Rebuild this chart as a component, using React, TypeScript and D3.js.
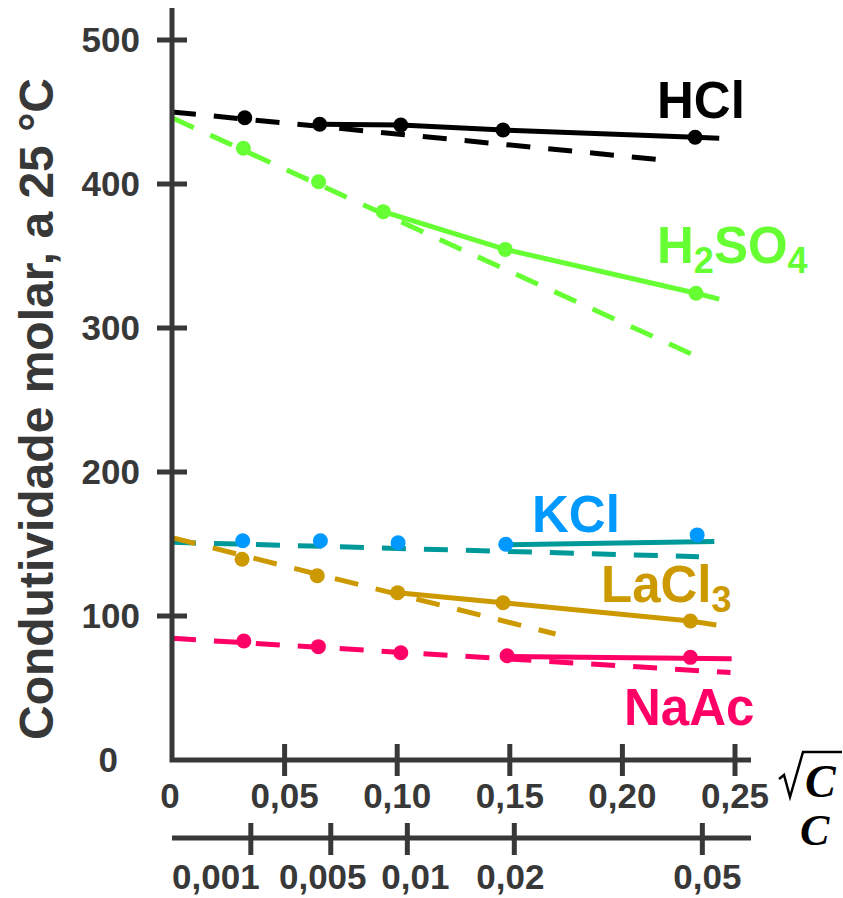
import React, { useEffect, useRef } from "react";
import * as d3 from "d3";

// axis ticks
const yTicks = [100, 200, 300, 400, 500];
const sqrtTicks = [0, 0.05, 0.1, 0.15, 0.2, 0.25];
const sqrtLabels = ["0", "0,05", "0,10", "0,15", "0,20", "0,25"];
const cLabels = ["0,001", "0,005", "0,01", "0,02", "0,05"];
// position of each c tick on the sqrt(c) scale, as drawn
const cTickAt = [0.035, 0.0705, 0.1045, 0.152, 0.2355];

// measured points (sqrt c, molar conductivity)
const hclX = [0.0323, 0.0656, 0.1016, 0.147, 0.2323];
const hclY = [446, 441.5, 441, 437.5, 432.5];
const h2so4X = [0.0317, 0.0651, 0.0938, 0.148, 0.2327];
const h2so4Y = [424.8, 401.6, 380.8, 354.6, 324.1];
const kclX = [0.0314, 0.0659, 0.1004, 0.1482, 0.2332];
const kclY = [152.3, 152.3, 150.9, 149.8, 156.3];
const laclX = [0.0311, 0.0645, 0.1002, 0.147, 0.2302];
const laclY = [139.4, 128.0, 116.2, 109.2, 96.5];
const naacX = [0.0319, 0.065, 0.1016, 0.1488, 0.2302];
const naacY = [82.6, 78.7, 74.5, 72.4, 71.3];

// solid curves (high concentration part)
const hclFitX = [0.0656, 0.1016, 0.147, 0.2323, 0.243];
const hclFitY = [441.5, 441, 437.5, 432.5, 431.7];
const h2so4FitX = [0.0938, 0.148, 0.2327, 0.243];
const h2so4FitY = [380.8, 354.6, 324.1, 320];
const kclFitX = [0.149, 0.2408];
const kclFitY = [149.4, 151.8];
const laclFitX = [0.1002, 0.147, 0.2302, 0.2417];
const laclFitY = [116.2, 109.2, 96.5, 93.8];
const naacFitX = [0.1488, 0.2485];
const naacFitY = [71.8, 70.3];

// dashed limiting lines (Kohlrausch)
const hclLimX = [0, 0.216];
const hclLimY = [450, 417];
const h2so4LimX = [0, 0.232];
const h2so4LimY = [446, 281];
const kclLimX = [0, 0.234];
const kclLimY = [151.2, 141.2];
const laclLimX = [0, 0.1703];
const laclLimY = [154.4, 87.5];
const naacLimX = [0, 0.248];
const naacLimY = [84.5, 60.7];

const series = [
  { name: "HCl", line: "#000000", dot: "#000000", x: hclX, y: hclY, fx: hclFitX, fy: hclFitY, lx: hclLimX, ly: hclLimY },
  { name: "H2SO4", line: "#66ff33", dot: "#66ff33", x: h2so4X, y: h2so4Y, fx: h2so4FitX, fy: h2so4FitY, lx: h2so4LimX, ly: h2so4LimY },
  { name: "KCl", line: "#009999", dot: "#0099ff", x: kclX, y: kclY, fx: kclFitX, fy: kclFitY, lx: kclLimX, ly: kclLimY },
  { name: "LaCl3", line: "#cc9900", dot: "#cc9900", x: laclX, y: laclY, fx: laclFitX, fy: laclFitY, lx: laclLimX, ly: laclLimY },
  { name: "NaAc", line: "#ff0066", dot: "#ff0066", x: naacX, y: naacY, fx: naacFitX, fy: naacFitY, lx: naacLimX, ly: naacLimY },
];

// label layout: [text parts (true = subscript)], x, baseline y, colour
const labels = [
  { parts: [["HCl", false]], x: 657, y: 118, color: "#000000" },
  { parts: [["H", false], ["2", true], ["SO", false], ["4", true]], x: 657, y: 263, color: "#66ff33" },
  { parts: [["KCl", false]], x: 532, y: 532, color: "#0099ff" },
  { parts: [["LaCl", false], ["3", true]], x: 601, y: 602, color: "#cc9900" },
  { parts: [["NaAc", false]], x: 624, y: 725, color: "#ff0066" },
];
const cLabelShift = [-35, -8, 8, -4, 5];

const W = 843;
const H = 898;
const AXIS = "#383838";
const FONT = "'Liberation Sans', Arial, sans-serif";

const App = () => {
  const ref = useRef<SVGSVGElement | null>(null);

  useEffect(() => {
    document.body.style.margin = "0";
    const svg = d3.select(ref.current);
    svg.selectAll("*").remove();

    const x = d3.scaleLinear().domain([0, 0.25]).range([172, 735]);
    const y = d3.scaleLinear().domain([0, 500]).range([760, 40]);
    const xEnd = 751;
    const cAxisY = 838;

    const line = d3
      .line<[number, number]>()
      .x((d) => x(d[0]))
      .y((d) => y(d[1]));

    // dashed limiting lines
    series.forEach((s) => {
      svg
        .append("path")
        .attr("d", line(s.lx.map((v, i) => [v, s.ly[i]] as [number, number])))
        .attr("fill", "none")
        .attr("stroke", s.line)
        .attr("stroke-width", 5)
        .attr("stroke-dasharray", "24 18");
    });

    // solid curves
    series.forEach((s) => {
      svg
        .append("path")
        .attr("d", line(s.fx.map((v, i) => [v, s.fy[i]] as [number, number])))
        .attr("fill", "none")
        .attr("stroke", s.line)
        .attr("stroke-width", 5)
        .attr("stroke-linejoin", "round");
    });

    // points
    series.forEach((s) => {
      svg
        .append("g")
        .selectAll("circle")
        .data(s.x.map((v, i) => [v, s.y[i]]))
        .enter()
        .append("circle")
        .attr("cx", (d) => x(d[0]))
        .attr("cy", (d) => y(d[1]))
        .attr("r", 7.5)
        .attr("fill", s.dot);
    });

    // axes
    svg
      .append("path")
      .attr("d", `M${x(0)},8 V${y(0)} H${xEnd}`)
      .attr("fill", "none")
      .attr("stroke", AXIS)
      .attr("stroke-width", 5);

    svg
      .append("g")
      .selectAll("line")
      .data(yTicks)
      .enter()
      .append("line")
      .attr("x1", x(0) - 15)
      .attr("x2", x(0) + 15)
      .attr("y1", (d) => y(d))
      .attr("y2", (d) => y(d))
      .attr("stroke", AXIS)
      .attr("stroke-width", 5);

    svg
      .append("g")
      .selectAll("text")
      .data([0, ...yTicks])
      .enter()
      .append("text")
      .attr("x", (d) => (d === 0 ? 118 : 140))
      .attr("y", (d) => y(d) + 12)
      .attr("text-anchor", "end")
      .style("font-family", FONT)
      .style("font-weight", "bold")
      .style("font-size", "35px")
      .attr("fill", AXIS)
      .text((d) => String(d));

    svg
      .append("g")
      .selectAll("line")
      .data(sqrtTicks.slice(1))
      .enter()
      .append("line")
      .attr("x1", (d) => x(d))
      .attr("x2", (d) => x(d))
      .attr("y1", y(0) - 16)
      .attr("y2", y(0) + 16)
      .attr("stroke", AXIS)
      .attr("stroke-width", 5);

    svg
      .append("g")
      .selectAll("text")
      .data(sqrtTicks)
      .enter()
      .append("text")
      .attr("x", (d) => x(d) - (d === 0 ? 2 : 0))
      .attr("y", 808)
      .attr("text-anchor", "middle")
      .style("font-family", FONT)
      .style("font-weight", "bold")
      .style("font-size", "35px")
      .attr("fill", AXIS)
      .text((d, i) => sqrtLabels[i]);

    // concentration axis
    svg
      .append("line")
      .attr("x1", x(0))
      .attr("x2", xEnd)
      .attr("y1", cAxisY)
      .attr("y2", cAxisY)
      .attr("stroke", AXIS)
      .attr("stroke-width", 5);

    svg
      .append("g")
      .selectAll("line")
      .data(cTickAt)
      .enter()
      .append("line")
      .attr("x1", (d) => x(d))
      .attr("x2", (d) => x(d))
      .attr("y1", cAxisY - 15)
      .attr("y2", cAxisY + 17)
      .attr("stroke", AXIS)
      .attr("stroke-width", 5);

    svg
      .append("g")
      .selectAll("text")
      .data(cTickAt)
      .enter()
      .append("text")
      .attr("x", (d, i) => x(d) + cLabelShift[i])
      .attr("y", 889)
      .attr("text-anchor", "middle")
      .style("font-family", FONT)
      .style("font-weight", "bold")
      .style("font-size", "35px")
      .attr("fill", AXIS)
      .text((d, i) => cLabels[i]);

    // sqrt(C) and C axis names
    svg
      .append("path")
      .attr("d", "M779,779 L784,775 L790,797 L803,752 L842,752")
      .attr("fill", "none")
      .attr("stroke", "#000")
      .attr("stroke-width", 2.5)
      .attr("stroke-linejoin", "miter");
    svg
      .append("text")
      .attr("x", 805)
      .attr("y", 797)
      .style("font-family", "'Liberation Serif', 'DejaVu Serif', serif")
      .style("font-weight", "bold")
      .style("font-style", "italic")
      .style("font-size", "46px")
      .text("C");
    svg
      .append("text")
      .attr("x", 800)
      .attr("y", 845)
      .style("font-family", "'Liberation Serif', 'DejaVu Serif', serif")
      .style("font-weight", "bold")
      .style("font-style", "italic")
      .style("font-size", "44px")
      .text("C");

    // y title
    svg
      .append("text")
      .attr("transform", `translate(53, 409) rotate(-90)`)
      .attr("text-anchor", "middle")
      .style("font-family", FONT)
      .style("font-weight", "bold")
      .style("font-size", "48px")
      .attr("fill", AXIS)
      .text("Condutividade molar, a 25 °C");

    // series labels
    labels.forEach((l) => {
      const t = svg
        .append("text")
        .attr("x", l.x)
        .attr("y", l.y)
        .style("font-family", FONT)
        .style("font-weight", "bold")
        .style("font-size", "51px")
        .attr("fill", l.color);
      let down = false;
      l.parts.forEach(([txt, sub]) => {
        const span = t.append("tspan").text(txt as string);
        if (sub) {
          span.style("font-size", "36px").attr("dy", 10);
          down = true;
        } else if (down) {
          span.attr("dy", -10);
          down = false;
        }
      });
    });
  }, []);

  return <svg ref={ref} width={W} height={H} style={{ display: "block", background: "#fff" }} />;
};

export default App;
